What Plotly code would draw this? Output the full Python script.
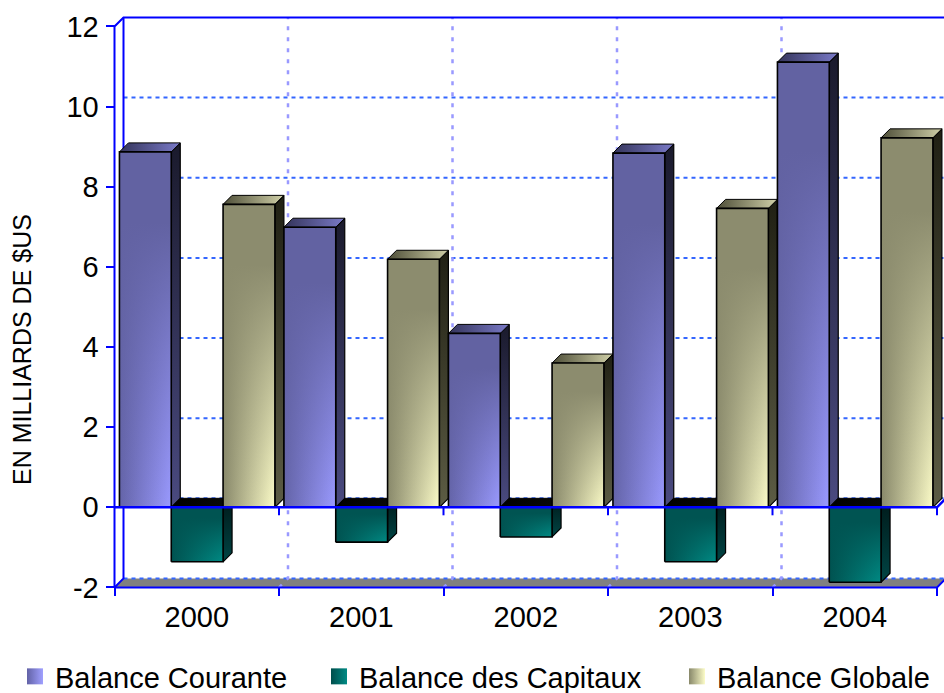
import plotly.graph_objects as go

# ---------------- data ----------------
years = ["2000", "2001", "2002", "2003", "2004"]
courante = [8.87, 6.99, 4.34, 8.84, 11.11]
capitaux = [-1.36, -0.87, -0.74, -1.36, -1.87]
globale = [7.56, 6.19, 3.60, 7.46, 9.22]
series_names = ["Balance Courante", "Balance des Capitaux", "Balance Globale"]
y_tick_values = [-2, 0, 2, 4, 6, 8, 10, 12]
y_tick_labels = ["-2", "0", "2", "4", "6", "8", "10", "12"]
y_title = "EN MILLIARDS DE $US"

# ---------------- geometry ----------------
W, H = 944, 693
X0_PX = 114.5          # pixel of x = -0.5 (front left edge)
CAT_PX = 164.5         # pixels per category
Y0_PX = 507.3          # pixel of y = 0
UNIT_PX = 40.07        # pixels per unit
DEPTH_PX = 9           # oblique depth


def px_to_x(px):
    return -0.5 + (px - X0_PX) / CAT_PX


def py_to_y(py):
    return (Y0_PX - py) / UNIT_PX


DX = DEPTH_PX / CAT_PX
DY = DEPTH_PX / UNIT_PX
n = len(years)
xlo, xhi = -0.5, n - 0.5
ymin, ymax = y_tick_values[0], y_tick_values[-1]
boundaries = [i - 0.5 for i in range(n + 1)]

GROUP_START = -0.47
BAR_W = 0.315

FONT = "Liberation Sans, Arial, Helvetica, sans-serif"
BLUE = "#0000ff"

styles = [
    dict(front=["#6464a8", "#9a9aff"], over="98,98,162", side=["#4a4a80", "#1a1a2c"],
         top=["#34345a", "#7a7ac8"], legend=("#6262a6", "#a0a0ff")),
    dict(front=["#005250", "#008a84"], over="0,84,82", side=["#004444", "#001a1a"],
         top=["#000000", "#0a0a0a"], legend=("#004e4c", "#008a84")),
    dict(front=["#88886a", "#fcfcc8"], over="140,140,110", side=["#5c5c44", "#202014"],
         top=["#4e4e38", "#d0d0a8"], legend=("#88886a", "#fcfcc8")),
]
all_series = [courante, capitaux, globale]

traces = []


def poly(pts, gtype=None, cs=None, fill=None, lw=0, lc="black"):
    xs = [p[0] for p in pts] + [pts[0][0]]
    ys = [p[1] for p in pts] + [pts[0][1]]
    kw = dict(x=xs, y=ys, mode="lines", fill="toself",
              line=dict(color=lc, width=lw), hoverinfo="skip", showlegend=False)
    if gtype:
        kw["fillgradient"] = dict(type=gtype, colorscale=cs)
    else:
        kw["fillcolor"] = fill
    return go.Scatter(**kw)


def line(xs, ys, color=BLUE, width=2, dash="solid"):
    return go.Scatter(x=xs, y=ys, mode="lines", line=dict(color=color, width=width, dash=dash),
                      hoverinfo="skip", showlegend=False)


# floor
traces.append(poly([(xlo, ymin), (xhi, ymin), (xhi + DX, ymin + DY), (xlo + DX, ymin + DY)],
                   fill="#808080"))

# back wall horizontal gridlines
for v in y_tick_values[:-1]:
    traces.append(line([xlo + DX, xhi + DX], [v + DY, v + DY], color="#3366ff", width=2, dash="4px,4px"))

# back wall vertical gridlines (and across the floor)
for b in boundaries[1:-1]:
    traces.append(line([b, b + DX, b + DX], [ymin, ymin + DY, ymax + DY], color="#9999ff",
                       width=2.5, dash="4px,7px"))

# back-left edge and bottom-left diagonal
traces.append(line([xlo, xlo + DX, xlo + DX], [ymin, ymin + DY, ymax + DY], width=2))

# bars
for i in range(n):
    for s, vals in enumerate(all_series):
        st = styles[s]
        v = vals[i]
        x0 = i + GROUP_START + s * BAR_W
        x1 = x0 + BAR_W
        lo, hi = min(0, v), max(0, v)
        # side face
        traces.append(poly([(x1, lo), (x1, hi), (x1 + DX, hi + DY), (x1 + DX, lo + DY)],
                           gtype="vertical", cs=[[0, st["side"][0]], [1, st["side"][1]]], lw=1.2))
        # top face
        traces.append(poly([(x0, hi), (x1, hi), (x1 + DX, hi + DY), (x0 + DX, hi + DY)],
                           gtype="horizontal", cs=[[0, st["top"][0]], [1, st["top"][1]]], lw=1))
        # front face (horizontal base + vertical darkening overlay)
        front = [(x0, lo), (x1, lo), (x1, hi), (x0, hi)]
        traces.append(poly(front, gtype="horizontal", cs=[[0, st["front"][0]], [1, st["front"][1]]]))
        c = st["over"]
        traces.append(poly(front, gtype="vertical",
                           cs=[[0, f"rgba({c},0)"], [0.45, f"rgba({c},0.55)"],
                               [0.8, f"rgba({c},1)"], [1, f"rgba({c},1)"]], lw=1.6))

# front frame: y axis, top-left diagonal, top back edge
traces.append(line([xlo, xlo, xlo + DX, xhi + DX], [ymin, ymax, ymax + DY, ymax + DY], width=2))
# bottom front edge
traces.append(line([xlo, xhi, xhi + DX], [ymin, ymin, ymin + DY], width=2))
# zero line
traces.append(line([xlo, xhi, xhi + DX], [0, 0, DY], width=2.5))
# ticks on zero line
tick_len = 8 / UNIT_PX
zx, zy = [], []
for b in boundaries[1:]:
    zx += [b, b, None]
    zy += [0, -tick_len, None]
traces.append(line(zx, zy, width=2))

# legend entries
for s, name in enumerate(series_names):
    c0, c1 = styles[s]["legend"]
    traces.append(go.Scatter(x=[None], y=[None], mode="markers", name=name,
                             marker=dict(symbol="square", size=17, color=c0,
                                         gradient=dict(type="horizontal", color=c1), line=dict(width=0)),
                             legend=["legend", "legend2", "legend3"][s], showlegend=True))

fig = go.Figure(traces)

dom_left, dom_right, dom_top, dom_bottom = 110, W, 13, 598

legend_common = dict(orientation="h", xref="container", yref="container", xanchor="left",
                     yanchor="middle", y=1 - 676.5 / H, bgcolor="rgba(0,0,0,0)",
                     font=dict(family=FONT, size=29, color="black"))

fig.update_layout(
    width=W, height=H,
    margin=dict(l=0, r=0, t=0, b=0, autoexpand=False),
    paper_bgcolor="white", plot_bgcolor="white",
    hovermode=False,
    font=dict(family=FONT, color="black"),
    xaxis=dict(range=[px_to_x(dom_left), px_to_x(dom_right)],
               domain=[dom_left / W, 1], anchor="free", position=(H - 587.4) / H,
               tickmode="array", tickvals=list(range(n)), ticktext=years,
               ticks="", showgrid=False, zeroline=False, showline=False, automargin=False,
               ticklabelstandoff=10,
               tickfont=dict(family=FONT, size=29, color="black"),
               minor=dict(tickmode="array", tickvals=boundaries, ticks="outside", ticklen=8,
                          tickwidth=2, tickcolor=BLUE, showgrid=False)),
    yaxis=dict(range=[py_to_y(dom_bottom), py_to_y(dom_top)],
               domain=[(H - dom_bottom) / H, (H - dom_top) / H], anchor="free",
               position=X0_PX / W, automargin=False,
               tickmode="array", tickvals=y_tick_values, ticktext=y_tick_labels,
               ticks="outside", ticklen=9,
               tickwidth=2, tickcolor=BLUE, showgrid=False, zeroline=False, showline=False,
               ticklabelstandoff=1,
               tickfont=dict(family=FONT, size=29, color="black")),
    legend=dict(legend_common, x=(28 - 13) / W),
    legend2=dict(legend_common, x=(332 - 13) / W),
    legend3=dict(legend_common, x=(690 - 13) / W),
    annotations=[dict(text=y_title, textangle=-90, xref="paper", yref="paper",
                      x=22 / W, y=1 - 350 / H, xanchor="center", yanchor="middle",
                      showarrow=False, font=dict(family=FONT, size=25, color="black"))],
)

fig.write_html(
    "out.html",
    config={"displayModeBar": False},
    post_script="document.body.style.margin='0';document.body.style.overflow='hidden';",
)
